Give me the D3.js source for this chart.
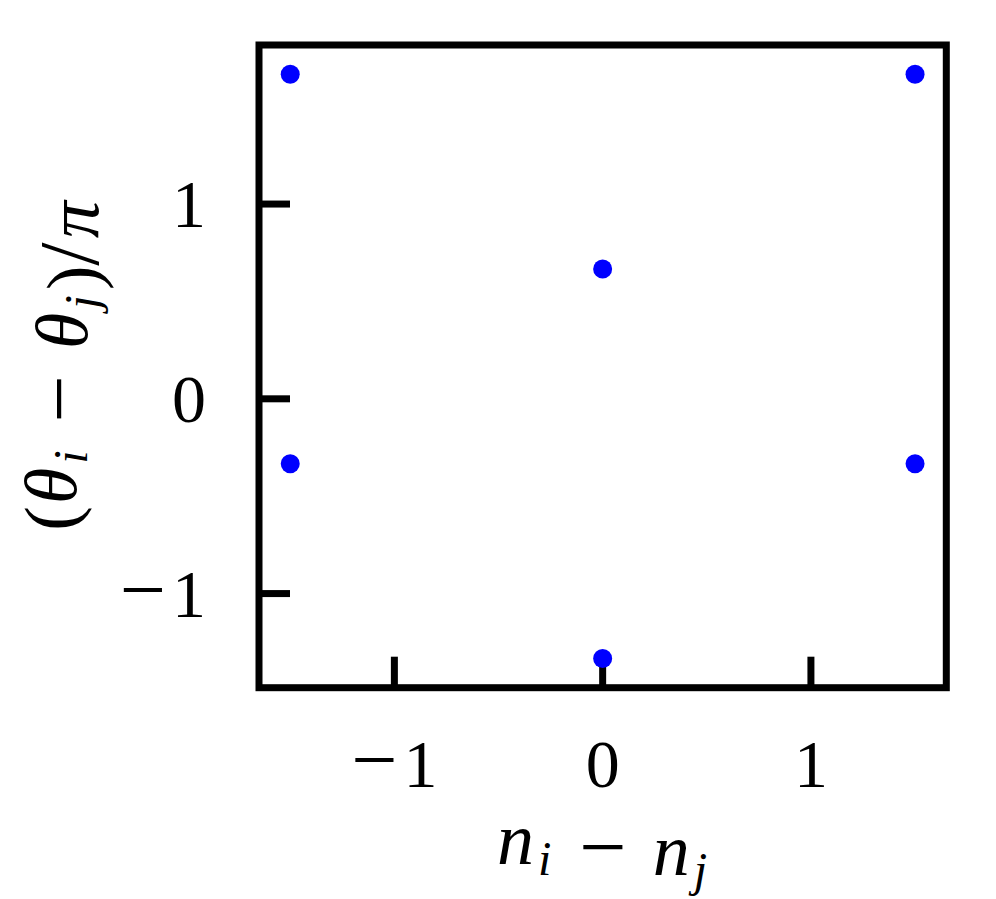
<!doctype html>
<html>
<head>
  <script src="https://d3js.org/d3.v7.min.js"></script>
  <style>
    body { margin: 0; padding: 0; background: #fff; }
    text { font-family: "Liberation Serif", "DejaVu Serif", serif; fill: #000; }
  </style>
</head>
<body>
<div id="container"></div>
<script>
  // points (n_i - n_j, (theta_i - theta_j)/pi)
  var dn     = [-1.5, 1.5, 0, -1.5, 1.5, 0];
  var dtheta = [5/3, 5/3, 2/3, -1/3, -1/3, -4/3];
  var xTicks = [-1, 0, 1];
  var yTicks = [-1, 0, 1];
  var xLim = [-1.65, 1.65];
  var yLim = [-4/3 - 0.15, 5/3 + 0.15];

  var W = 996, H = 899;
  var plotLeft = 259, plotRight = 946.3, plotTop = 45, plotBottom = 687.7;

  var svg = d3.select("#container").append("svg")
      .attr("width", W).attr("height", H);

  var x = d3.scaleLinear().domain(xLim).range([plotLeft, plotRight]);
  var y = d3.scaleLinear().domain(yLim).range([plotBottom, plotTop]);

  // tick label with a wide math minus
  function tickLabel(sel) {
    sel.each(function(d) {
      var t = d3.select(this);
      if (d < 0) {
        t.append("tspan").attr("font-size", 82).text("\u2212");
        t.append("tspan").attr("dx", 6).text(Math.abs(d));
      } else {
        t.text(d);
      }
    });
  }

  // ticks (inward)
  svg.selectAll("line.xt").data(xTicks).enter().append("line")
    .attr("x1", d => x(d)).attr("x2", d => x(d))
    .attr("y1", plotBottom).attr("y2", plotBottom - 31)
    .attr("stroke", "#000").attr("stroke-width", 7);
  svg.selectAll("line.yt").data(yTicks).enter().append("line")
    .attr("y1", d => y(d)).attr("y2", d => y(d))
    .attr("x1", plotLeft).attr("x2", plotLeft + 31)
    .attr("stroke", "#000").attr("stroke-width", 7);

  // tick labels
  svg.selectAll("text.xl").data(xTicks).enter().append("text")
    .attr("x", d => x(d)).attr("y", 787)
    .attr("text-anchor", "middle").attr("font-size", 68)
    .call(tickLabel);
  svg.selectAll("text.yl").data(yTicks).enter().append("text")
    .attr("x", 206).attr("y", d => y(d) + 23)
    .attr("text-anchor", "end").attr("font-size", 68)
    .call(tickLabel);

  // points
  svg.selectAll("circle").data(dn).enter().append("circle")
    .attr("cx", d => x(d)).attr("cy", (d, i) => y(dtheta[i]))
    .attr("r", 9.5).attr("fill", "#0000ff");

  // frame
  svg.append("rect")
    .attr("x", plotLeft).attr("y", plotTop)
    .attr("width", plotRight - plotLeft).attr("height", plotBottom - plotTop)
    .attr("fill", "none").attr("stroke", "#000").attr("stroke-width", 7);

  // axis labels
  function sub(t, s, dx) {
    t.append("tspan").attr("font-size", 48).attr("dx", dx || 4).attr("dy", 11).text(s);
    t.append("tspan").attr("dy", -11).text("");
  }
  function minus(t) {
    t.append("tspan").attr("font-style", "normal").attr("font-size", 84)
      .attr("dx", 28).text("\u2212");
  }
  var xl = svg.append("text").attr("x", 602).attr("y", 864)
      .attr("text-anchor", "middle").attr("font-size", 74).attr("font-style", "italic");
  xl.append("tspan").text("n");
  sub(xl, "i");
  minus(xl);
  xl.append("tspan").attr("dx", 26).text("n");
  sub(xl, "j");

  var yl = svg.append("text")
      .attr("transform", "translate(76,366) rotate(-90)")
      .attr("text-anchor", "middle").attr("font-size", 74).attr("font-style", "italic");
  yl.append("tspan").attr("font-style", "normal").text("(");
  yl.append("tspan").attr("dx", 2).text("\u03b8");
  sub(yl, "i");
  minus(yl);
  yl.append("tspan").attr("dx", 26).text("\u03b8");
  sub(yl, "j");
  yl.append("tspan").attr("font-style", "normal").attr("dx", 5).text(")");
  yl.append("tspan").attr("font-style", "normal").attr("font-size", 84).text("/");
  yl.append("tspan").attr("dx", 4).text("\u03c0");
</script>
</body>
</html>
